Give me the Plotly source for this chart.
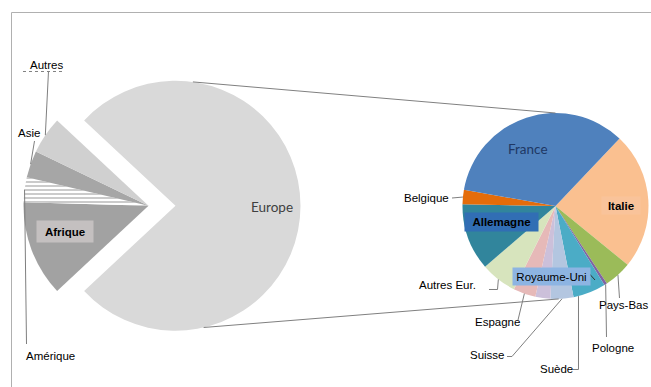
import math
import plotly.graph_objects as go

W, H = 651, 387

# Population by continent of origin (%)
continents = ["Afrique", "Amérique", "Asie", "Autres", "Europe"]
continent_values = [12.4, 3.2, 3.5, 4.8, 76.1]
continent_colors = ["#A2A2A2", "#FFFFFF", "#A6A6A6", "#D0D0D0", "#D9D9D9"]

# Breakdown of Europe by country (%)
pays = ["Italie", "Pays-Bas", "Pologne", "Suède", "Suisse", "Royaume-Uni",
        "Espagne", "Autres Eur.", "Allemagne", "Belgique", "France"]
pays_values = [23.8, 4.8, 0.5, 5.7, 4.0, 2.6, 3.9, 6.3, 11.6, 2.5, 34.3]
pays_colors = ["#FAC090", "#9BBB59", "#8064A2", "#4BACC6", "#B3C6E0", "#CCC0DA",
               "#E6B9B8", "#D7E4BD", "#31859C", "#E46C0A", "#4F81BD"]

# Geometry (pixels)
L_CX, L_CY, L_R = 175.5, 205.7, 125.0   # main pie
EXPLODE = 27.0                          # offset of the non-European group
R_CX, R_CY, R_R = 555.5, 206.0, 93.0    # detail pie
R_ROT = 43.5

NARROW = "Liberation Sans Narrow, Arial Narrow, Liberation Sans, Arial, sans-serif"
HUMAN = "Lato, Open Sans, sans-serif"
LBL = 11.5
TRANSPARENT = "rgba(0,0,0,0)"


def px(x):
    return x / W


def py(y):
    return 1 - y / H


def domain(cx, cy, r):
    return dict(x=[px(cx - r), px(cx + r)], y=[py(cy + r), py(cy - r)])


# Rotation so that the non-European group is centred on the left
total = sum(continent_values)
others = total - continent_values[continents.index("Europe")]
others_angle = 360 * others / total
L_ROT = 90 - (180 + others_angle / 2)


def mid_point(values, names, name, rot, cx, cy, r):
    tot = sum(values)
    cum = 0
    for n, v in zip(names, values):
        if n == name:
            theta = rot + 360 * (cum + v / 2) / tot
            a = math.radians(90 - theta)
            return cx + r * math.cos(a), cy - r * math.sin(a)
        cum += v
    raise KeyError(name)


def circle_point(cx, cy, r, deg):
    a = math.radians(deg)
    return cx + r * math.cos(a), cy - r * math.sin(a)


def circle_below(cx, cy, r, x):
    """Point of the lower half of the circle at abscissa x."""
    return x, cy + math.sqrt(max(r * r - (x - cx) ** 2, 0))


fig = go.Figure()

europe_only = [c if n == "Europe" else TRANSPARENT for n, c in zip(continents, continent_colors)]
rest_only = [TRANSPARENT if n == "Europe" else c for n, c in zip(continents, continent_colors)]

fig.add_trace(go.Pie(
    labels=continents, values=continent_values, sort=False, direction="clockwise",
    rotation=L_ROT, textinfo="none", hoverinfo="label+value",
    marker=dict(colors=europe_only, line=dict(width=0)),
    domain=domain(L_CX, L_CY, L_R), showlegend=False,
))
fig.add_trace(go.Pie(
    labels=continents, values=continent_values, sort=False, direction="clockwise",
    rotation=L_ROT, textinfo="none", hoverinfo="label+value",
    marker=dict(colors=rest_only, line=dict(width=0),
                pattern=dict(shape=["-" if n == "Amérique" else "" for n in continents],
                             fgcolor="#A8A8A8", size=4, solidity=0.3)),
    domain=domain(L_CX - EXPLODE, L_CY, L_R), showlegend=False,
))
fig.add_trace(go.Pie(
    labels=pays, values=pays_values, sort=False, direction="clockwise",
    rotation=R_ROT, textinfo="none", hoverinfo="label+value",
    marker=dict(colors=pays_colors, line=dict(width=0)),
    domain=domain(R_CX, R_CY, R_R), showlegend=False,
))

shapes = []


def seg_path(points, color="#7F7F7F", width=1, dash="solid"):
    d = "M " + " L ".join(f"{px(x):.5f},{py(y):.5f}" for x, y in points)
    shapes.append(dict(type="path", path=d, xref="paper", yref="paper",
                       line=dict(color=color, width=width, dash=dash)))


# Chart frame
shapes.append(dict(type="rect", xref="paper", yref="paper",
                   x0=px(11.5), y0=py(12.5), x1=px(720), y1=py(480),
                   line=dict(color="#B0B0B0", width=1), fillcolor=TRANSPARENT))

# Connector lines between the two pies
seg_path([circle_point(L_CX, L_CY, L_R, 82), circle_point(R_CX, R_CY, R_R, 90)], color="#808080")
seg_path([circle_point(L_CX, L_CY, L_R, -77), circle_point(R_CX, R_CY, R_R, -88)], color="#808080")


def left_end(name):
    return mid_point(continent_values, continents, name, L_ROT, L_CX - EXPLODE, L_CY, L_R)


def right_end(name):
    return mid_point(pays_values, pays, name, R_ROT, R_CX, R_CY, R_R)


# Leader lines, main pie
seg_path([(23, 71.5), (63, 71.5)], color="#808080", dash="dot")
seg_path([(48.5, 71.5), left_end("Autres")])
seg_path([(34.5, 141), left_end("Asie")])
seg_path([(26.5, 344), left_end("Amérique")])

# Leader lines, detail pie
seg_path([(452, 198), right_end("Belgique")])
seg_path([(489, 289.5), (497.5, 289.5), right_end("Autres Eur.")])
seg_path([(518, 320), right_end("Espagne")])
seg_path([(507, 356.5), (512, 356.5), right_end("Suisse")])
seg_path([(573, 369.5), (578.5, 369.5), circle_below(R_CX, R_CY, R_R, 578.5)])
seg_path([(606.5, 337), right_end("Pologne")])
seg_path([(619.5, 298), right_end("Pays-Bas")])
seg_path([(585, 269), (595, 280)], color="#303030")

annotations = []


def label(text, x, y, size=LBL, bold=False, family=NARROW, color="#000000",
          bg=None, w=None, h=None):
    a = dict(text=f"<b>{text}</b>" if bold else text, x=px(x), y=py(y),
             xref="paper", yref="paper", xanchor="center", yanchor="middle",
             showarrow=False, font=dict(family=family, size=size, color=color),
             borderpad=0)
    if bg:
        a["bgcolor"] = bg
    if w:
        a["width"] = w
    if h:
        a["height"] = h
    annotations.append(a)


label("Autres", 46, 65)
label("Asie", 29, 133)
label("Amérique", 50, 356)
label("Afrique", 65, 231.5, bold=True, bg="#C4C0C0", w=56, h=21)
label("Europe", 272, 207, size=13.5, family=HUMAN, color="#404040")

label("France", 527.5, 148.5, size=13.5, family=HUMAN, color="#203864")
label("Italie", 621, 205.5, bold=True, bg="#F9C39A", w=38, h=17)
label("Allemagne", 501, 222, bold=True, bg="#316EB4", w=73, h=18)
label("Belgique", 426, 198.5)
label("Autres Eur.", 447.5, 285)
label("Espagne", 497.5, 321.5)
label("Suisse", 487, 355)
label("Suède", 556, 368.5)
label("Pologne", 613, 347.5)
label("Pays-Bas", 623.5, 305)
label("Royaume-Uni", 551.5, 276.5, bg="#8DB4E2", w=77, h=17)

fig.update_layout(
    width=W, height=H, margin=dict(l=0, r=0, t=0, b=0),
    paper_bgcolor="#FFFFFF", plot_bgcolor="#FFFFFF",
    shapes=shapes, annotations=annotations,
)

fig.write_html("out.html", post_script="document.body.style.margin='0';")
